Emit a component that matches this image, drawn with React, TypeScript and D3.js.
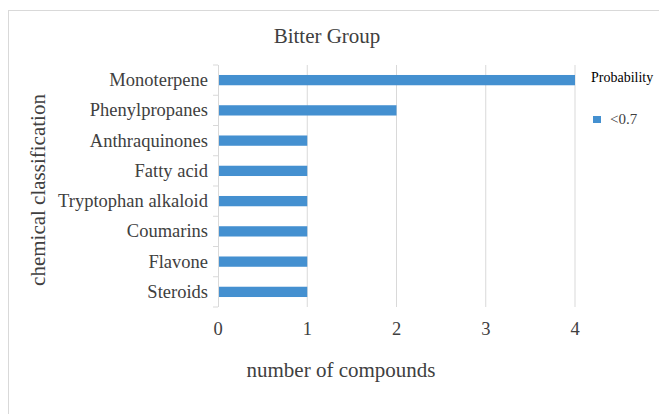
import React from "react";
import * as d3 from "d3";

const categories = [
  "Monoterpene",
  "Phenylpropanes",
  "Anthraquinones",
  "Fatty acid",
  "Tryptophan alkaloid",
  "Coumarins",
  "Flavone",
  "Steroids",
];
const counts = [4, 2, 1, 1, 1, 1, 1, 1];
const xTicks = [0, 1, 2, 3, 4];
const seriesName = "<0.7";
const legendTitle = "Probability";

const W = 659;
const H = 414;
const font = "'Liberation Serif', 'Times New Roman', serif";
const barColor = "#4490d0";
const gridColor = "#d9d9d9";
const textColor = "#404040";

export default function App() {
  const x = d3.scaleLinear().domain([0, 4]).range([218, 575]);
  const y = d3.scaleBand().domain(categories).range([65, 307]).paddingInner(0.66).paddingOuter(0.33);
  const step = y.step();
  const bandStart = 65;

  return (
    <svg width={W} height={H} style={{ position: "absolute", left: 0, top: 0 }}>
      <rect x={0} y={0} width={W} height={H} fill="#fff" />
      <rect x={8.5} y={10.5} width={W + 10} height={H + 10} fill="none" stroke={gridColor} strokeWidth={1} />
      <text x={327} y={43} textAnchor="middle" fontFamily={font} fontSize={21} fill={textColor}>
        Bitter Group
      </text>
      {xTicks.slice(1).map((t) => (
        <line key={t} x1={x(t)} x2={x(t)} y1={65} y2={307} stroke={gridColor} strokeWidth={1} />
      ))}
      <line x1={x(0) + 0.5} x2={x(0) + 0.5} y1={65} y2={307} stroke={gridColor} strokeWidth={1} />
      {d3.range(categories.length + 1).map((i) => (
        <line
          key={i}
          x1={x(0) - 5}
          x2={x(0)}
          y1={bandStart + i * step}
          y2={bandStart + i * step}
          stroke={gridColor}
          strokeWidth={1}
        />
      ))}
      {categories.map((c, i) => (
        <rect key={c} x={x(0) + 1} y={y(c)!} width={x(counts[i]) - x(0) - 1} height={y.bandwidth()} fill={barColor} />
      ))}
      {categories.map((c) => (
        <text
          key={c}
          x={208}
          y={y(c)! + y.bandwidth() / 2}
          dy="0.32em"
          textAnchor="end"
          fontFamily={font}
          fontSize={18.5}
          fill={textColor}
        >
          {c}
        </text>
      ))}
      {xTicks.map((t) => (
        <text key={t} x={x(t)} y={335} textAnchor="middle" fontFamily={font} fontSize={18.5} fill={textColor}>
          {t}
        </text>
      ))}
      <text x={341} y={377} textAnchor="middle" fontFamily={font} fontSize={21} fill={textColor}>
        number of compounds
      </text>
      <text
        transform="translate(45,190) rotate(-90)"
        textAnchor="middle"
        fontFamily={font}
        fontSize={21}
        fill={textColor}
      >
        chemical classification
      </text>
      <text x={591} y={82} fontFamily={font} fontSize={14} fill="#000">
        {legendTitle}
      </text>
      <rect x={593} y={116} width={8} height={7} fill={barColor} />
      <text x={610} y={124} fontFamily={font} fontSize={15} fill={textColor}>
        {seriesName}
      </text>
    </svg>
  );
}
